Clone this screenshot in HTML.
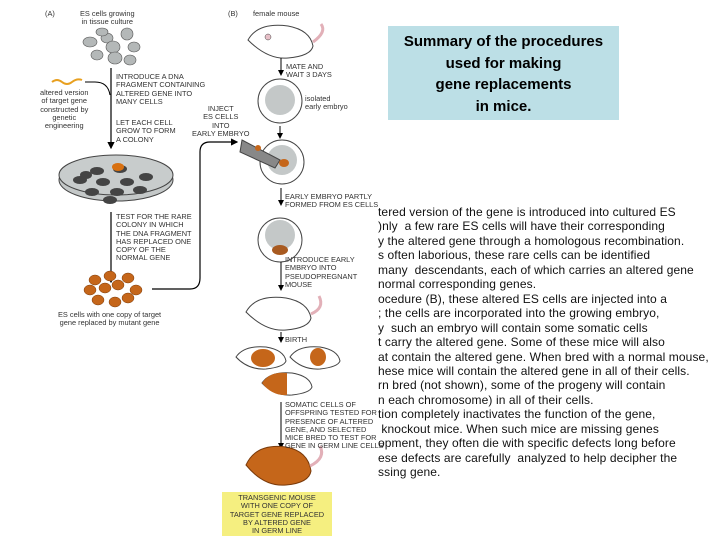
<!DOCTYPE html>
<html><head><meta charset="utf-8"><style>
body{margin:0;width:720px;height:540px;background:#fff;position:relative;overflow:hidden;font-family:"Liberation Sans",sans-serif}
.t{position:absolute;font-size:7.4px;line-height:8.3px;color:#333;white-space:nowrap}
.c{text-align:center}
#title{position:absolute;left:388px;top:26px;width:231px;height:94px;background:#bcdfe6;font-weight:bold;font-size:15px;line-height:21.7px;text-align:center;padding-top:5px;box-sizing:border-box;color:#000}
#body{position:absolute;left:378px;top:205px;font-size:12px;letter-spacing:0.1px;line-height:14.45px;color:#111;white-space:pre}
</style></head><body>
<svg width="720" height="540" style="position:absolute;left:0;top:0">
<defs><marker id="a" markerWidth="6" markerHeight="6" refX="5" refY="3" orient="auto"><path d="M0,0L6,3L0,6z" fill="#000"/></marker></defs>
<g fill="#b4b8b8" stroke="#555" stroke-width="0.6">
<ellipse cx="90" cy="42" rx="7" ry="5"/><ellipse cx="107" cy="38" rx="6" ry="5"/><ellipse cx="127" cy="34" rx="6" ry="6"/><ellipse cx="113" cy="47" rx="7" ry="6"/><ellipse cx="97" cy="55" rx="6" ry="5"/><ellipse cx="134" cy="47" rx="6" ry="5"/><ellipse cx="115" cy="58" rx="7" ry="6"/><ellipse cx="130" cy="60" rx="6" ry="5"/><ellipse cx="102" cy="32" rx="6" ry="4"/>
</g>
<path d="M111,68V148" stroke="#000" stroke-width="1.2" marker-end="url(#a)"/>
<path d="M85,82H95Q108,82 110,95" stroke="#000" fill="none" stroke-width="1"/>
<path d="M52,82q5,-4 10,0q5,4 10,0q5,-4 10,-2" stroke="#e8a020" stroke-width="2" fill="none"/>
<ellipse cx="116" cy="180" rx="57" ry="21" fill="#c4c8c8" stroke="#444"/>
<ellipse cx="116" cy="175" rx="57" ry="20" fill="#c8cccc" stroke="#444"/>
<g fill="#444"><ellipse cx="97" cy="171" rx="7" ry="4"/><ellipse cx="120" cy="169" rx="7" ry="4"/><ellipse cx="80" cy="180" rx="7" ry="4"/><ellipse cx="103" cy="182" rx="7" ry="4"/><ellipse cx="127" cy="182" rx="7" ry="4"/><ellipse cx="146" cy="177" rx="7" ry="4"/><ellipse cx="92" cy="192" rx="7" ry="4"/><ellipse cx="117" cy="192" rx="7" ry="4"/><ellipse cx="140" cy="190" rx="7" ry="4"/><ellipse cx="110" cy="200" rx="7" ry="4"/><ellipse cx="86" cy="175" rx="6" ry="4"/></g>
<ellipse cx="118" cy="167" rx="6" ry="4" fill="#d87010"/>
<path d="M111,212V282" stroke="#000" stroke-width="1.2" marker-end="url(#a)"/>
<g fill="#c5661a" stroke="#7a3a0a" stroke-width="0.5">
<ellipse cx="95" cy="280" rx="6" ry="5"/><ellipse cx="110" cy="276" rx="6" ry="5"/><ellipse cx="128" cy="278" rx="6" ry="5"/><ellipse cx="90" cy="290" rx="6" ry="5"/><ellipse cx="105" cy="288" rx="6" ry="5"/><ellipse cx="118" cy="285" rx="6" ry="5"/><ellipse cx="136" cy="290" rx="6" ry="5"/><ellipse cx="98" cy="300" rx="6" ry="5"/><ellipse cx="115" cy="302" rx="6" ry="5"/><ellipse cx="128" cy="298" rx="6" ry="5"/></g>
<path d="M152,289H190Q200,289 200,278V152Q200,142 210,142H237" stroke="#000" fill="none" stroke-width="1.2" marker-end="url(#a)"/>
<path d="M248,40q10,-18 40,-14q22,4 25,20q-2,10 -25,12q-20,2 -40,-18z" fill="#fff" stroke="#444"/>
<path d="M313,42q14,-10 8,-18" stroke="#e2b0b8" stroke-width="3" fill="none"/>
<circle cx="268" cy="37" r="3" fill="#e8c0c8" stroke="#444" stroke-width=".5"/>
<path d="M281,58V75" stroke="#000" marker-end="url(#a)"/>
<circle cx="280" cy="101" r="22" fill="#fff" stroke="#444"/><circle cx="280" cy="100" r="15" fill="#c4c8c8"/>
<path d="M280,126V138" stroke="#000" marker-end="url(#a)"/>
<circle cx="282" cy="162" r="22" fill="#fff" stroke="#444"/><circle cx="282" cy="160" r="15" fill="#c4c8c8"/>
<path d="M242,140L280,160L275,168L240,152z" fill="#888" stroke="#444"/>
<ellipse cx="284" cy="163" rx="5" ry="4" fill="#c5661a"/><ellipse cx="258" cy="148" rx="3" ry="3" fill="#c5661a"/>
<path d="M281,188V205" stroke="#000" marker-end="url(#a)"/>
<circle cx="280" cy="240" r="22" fill="#fff" stroke="#444"/><circle cx="280" cy="235" r="15" fill="#c4c8c8"/><ellipse cx="280" cy="250" rx="8" ry="5" fill="#a85a20"/>
<path d="M281,262V290" stroke="#000" marker-end="url(#a)"/>
<path d="M246,312q10,-18 40,-14q22,4 25,20q-2,10 -25,12q-20,2 -40,-18z" fill="#fff" stroke="#444"/>
<path d="M311,314q14,-6 8,-18" stroke="#e2b0b8" stroke-width="3" fill="none"/>
<path d="M281,332V342" stroke="#000" marker-end="url(#a)"/>
<path d="M236,357q8,-12 30,-10q18,3 20,14q-2,6 -20,8q-18,1 -30,-12z" fill="#fff" stroke="#444"/><ellipse cx="263" cy="358" rx="12" ry="9" fill="#c5661a"/>
<path d="M290,357q8,-12 30,-10q18,3 20,14q-2,6 -20,8q-18,1 -30,-12z" fill="#fff" stroke="#444"/><ellipse cx="318" cy="357" rx="8" ry="9" fill="#c5661a"/>
<path d="M262,383q8,-12 30,-10q18,3 20,14q-2,6 -20,8q-18,1 -30,-12z" fill="#fff" stroke="#444"/><path d="M262,383q8,-12 25,-10v22q-15,1 -25,-12z" fill="#c5661a"/>
<path d="M281,402V448" stroke="#000" marker-end="url(#a)"/>
<path d="M246,465q10,-22 40,-18q22,4 25,24q-2,12 -25,14q-22,2 -40,-20z" fill="#c5661a" stroke="#7a3a0a"/>
<path d="M310,466q16,-8 10,-20" stroke="#e2b0b8" stroke-width="3" fill="none"/>
<rect x="222" y="492" width="110" height="44" fill="#f5ef80"/>
</svg>
<div class="t" style="left:45px;top:10px">(A)</div>
<div class="t c" style="left:80px;top:10px">ES cells growing<br>in tissue culture</div>
<div class="t" style="left:116px;top:73px">INTRODUCE A DNA<br>FRAGMENT CONTAINING<br>ALTERED GENE INTO<br>MANY CELLS</div>
<div class="t c" style="left:40px;top:89px">altered version<br>of target gene<br>constructed by<br>genetic<br>engineering</div>
<div class="t" style="left:116px;top:119px">LET EACH CELL<br>GROW TO FORM<br>A COLONY</div>
<div class="t" style="left:116px;top:213px">TEST FOR THE RARE<br>COLONY IN WHICH<br>THE DNA FRAGMENT<br>HAS REPLACED ONE<br>COPY OF THE<br>NORMAL GENE</div>
<div class="t c" style="left:58px;top:311px">ES cells with one copy of target<br>gene replaced by mutant gene</div>
<div class="t" style="left:228px;top:10px">(B)</div>
<div class="t" style="left:253px;top:10px">female mouse</div>
<div class="t" style="left:286px;top:63px">MATE AND<br>WAIT 3 DAYS</div>
<div class="t" style="left:305px;top:95px">isolated<br>early embryo</div>
<div class="t c" style="left:192px;top:105px">INJECT<br>ES CELLS<br>INTO<br>EARLY EMBRYO</div>
<div class="t" style="left:285px;top:193px">EARLY EMBRYO PARTLY<br>FORMED FROM ES CELLS</div>
<div class="t" style="left:285px;top:256px">INTRODUCE EARLY<br>EMBRYO INTO<br>PSEUDOPREGNANT<br>MOUSE</div>
<div class="t" style="left:285px;top:336px">BIRTH</div>
<div class="t" style="left:285px;top:401px">SOMATIC CELLS OF<br>OFFSPRING TESTED FOR<br>PRESENCE OF ALTERED<br>GENE, AND SELECTED<br>MICE BRED TO TEST FOR<br>GENE IN GERM LINE CELLS</div>
<div class="t c" style="left:222px;top:494px;width:110px">TRANSGENIC MOUSE<br>WITH ONE COPY OF<br>TARGET GENE REPLACED<br>BY ALTERED GENE<br>IN GERM LINE</div>
<div id="title">Summary of the procedures<br>used for making<br>gene replacements<br>in mice.</div>
<div id="body">tered version of the gene is introduced into cultured ES
)nly  a few rare ES cells will have their corresponding
y the altered gene through a homologous recombination.
s often laborious, these rare cells can be identified
many  descendants, each of which carries an altered gene
normal corresponding genes.
ocedure (B), these altered ES cells are injected into a
; the cells are incorporated into the growing embryo,
y  such an embryo will contain some somatic cells
t carry the altered gene. Some of these mice will also
at contain the altered gene. When bred with a normal mouse,
hese mice will contain the altered gene in all of their cells.
rn bred (not shown), some of the progeny will contain
n each chromosome) in all of their cells.
tion completely inactivates the function of the gene,
 knockout mice. When such mice are missing genes
opment, they often die with specific defects long before
ese defects are carefully  analyzed to help decipher the
ssing gene.</div>
</body></html>
